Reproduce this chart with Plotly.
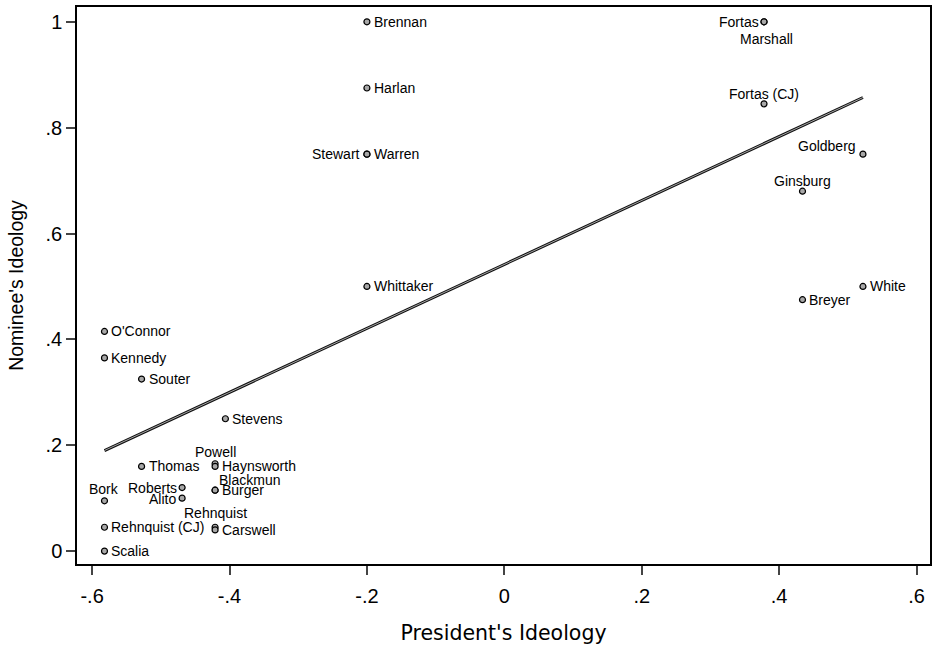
import plotly.graph_objects as go

# Supreme Court nominees: appointing president's ideology vs. nominee's ideology
nominees = [
    "Brennan", "Harlan", "Stewart", "Warren", "Whittaker",
    "Fortas", "Marshall", "Fortas (CJ)",
    "Goldberg", "White",
    "Ginsburg", "Breyer",
    "O'Connor", "Kennedy", "Bork", "Rehnquist (CJ)", "Scalia",
    "Souter", "Thomas",
    "Stevens",
    "Roberts", "Alito",
    "Powell", "Haynsworth", "Blackmun", "Burger", "Rehnquist", "Carswell",
]
president_ideology = [
    -0.2, -0.2, -0.2, -0.2, -0.2,
    0.378, 0.378, 0.378,
    0.522, 0.522,
    0.434, 0.434,
    -0.582, -0.582, -0.582, -0.582, -0.582,
    -0.528, -0.528,
    -0.406,
    -0.469, -0.469,
    -0.421, -0.421, -0.421, -0.421, -0.421, -0.421,
]
nominee_ideology = [
    1.0, 0.875, 0.75, 0.75, 0.5,
    1.0, 1.0, 0.845,
    0.75, 0.5,
    0.68, 0.475,
    0.415, 0.365, 0.095, 0.045, 0.0,
    0.325, 0.16,
    0.25,
    0.12, 0.10,
    0.165, 0.16, 0.115, 0.115, 0.045, 0.04,
]

# Fitted regression line (end points of the fit over the observed range)
fit_x = [-0.582, 0.522]
fit_y = [0.19, 0.857]

x_ticks = [-0.6, -0.4, -0.2, 0, 0.2, 0.4, 0.6]
x_tick_labels = ["-.6", "-.4", "-.2", "0", ".2", ".4", ".6"]
y_ticks = [0, 0.2, 0.4, 0.6, 0.8, 1.0]
y_tick_labels = ["0", ".2", ".4", ".6", ".8", "1"]

# Marker label placement: (xanchor, yanchor, xshift, yshift); default is right of marker
RIGHT = ("left", "middle", 5, 0)
label_style = {
    "Stewart": ("right", "middle", -5, 0),
    "Fortas": ("right", "middle", -3, 0),
    "Marshall": ("center", "middle", 2, -17),
    "Fortas (CJ)": ("center", "middle", 0, 10),
    "Goldberg": ("right", "middle", -5, 8),
    "Ginsburg": ("center", "middle", 0, 10),
    "Bork": ("center", "middle", 0, 12),
    "Roberts": ("right", "middle", -3, 0),
    "Alito": ("right", "middle", -4, -1),
    "Powell": ("center", "middle", 0, 12),
    "Haynsworth": ("left", "middle", 5, 0),
    "Blackmun": ("left", "middle", 2, 10),
    "Rehnquist": ("center", "middle", 0, 14),
}

LABEL_FONT = "Liberation Sans"

fig = go.Figure()

# Regression line drawn as a dark stroke with a light core
fig.add_trace(go.Scatter(
    x=fit_x, y=fit_y, mode="lines",
    line=dict(color="#111111", width=3),
    hoverinfo="skip", showlegend=False,
))
fig.add_trace(go.Scatter(
    x=fit_x, y=fit_y, mode="lines",
    line=dict(color="#b8b8b8", width=0.9),
    hoverinfo="skip", showlegend=False,
))

fig.add_trace(go.Scatter(
    x=president_ideology, y=nominee_ideology,
    mode="markers",
    text=nominees,
    marker=dict(size=6, color="#a8a8a8", line=dict(color="#000000", width=1.2)),
    showlegend=False,
))

for name, px, py in zip(nominees, president_ideology, nominee_ideology):
    xa, ya, dx, dy = label_style.get(name, RIGHT)
    fig.add_annotation(
        x=px, y=py, text=name, showarrow=False,
        xanchor=xa, yanchor=ya, xshift=dx, yshift=dy,
        font=dict(family=LABEL_FONT, size=14, color="#000000"),
    )

fig.update_layout(
    width=937, height=646,
    margin=dict(l=77, r=5, t=5, b=81),
    paper_bgcolor="white", plot_bgcolor="white",
    font=dict(family="Liberation Sans", color="#000000"),
)
fig.update_xaxes(
    range=[-0.622, 0.6196],
    tickvals=x_ticks, ticktext=x_tick_labels,
    tickfont=dict(size=20), ticks="outside", ticklen=9, tickwidth=1.5,
    ticklabelstandoff=4,
    showgrid=False, zeroline=False,
    showline=True, linecolor="black", linewidth=1.5, mirror=True,
    title=dict(text="President's Ideology",
               font=dict(family="DejaVu Sans", size=20.5), standoff=20),
)
fig.update_yaxes(
    range=[-0.0244, 1.028],
    tickvals=y_ticks, ticktext=y_tick_labels,
    tickfont=dict(size=20), ticks="outside", ticklen=9, tickwidth=1.5,
    showgrid=False, zeroline=False,
    showline=True, linecolor="black", linewidth=1.5, mirror=True,
    title=dict(text="Nominee's Ideology", font=dict(size=19.5), standoff=17),
)

fig.write_html("out.html")
